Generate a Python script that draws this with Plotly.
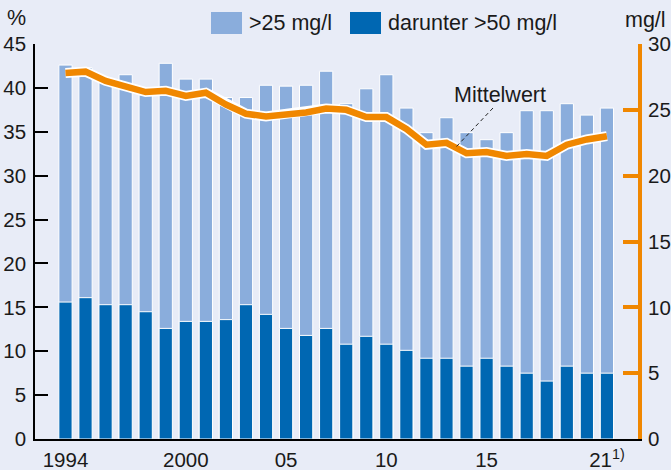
import plotly.graph_objects as go

years = list(range(1994, 2022))
share_over25 = [42.6, 42.3, 40.7, 41.5, 39.2, 42.8, 41.0, 41.0, 38.9, 38.9, 40.3, 40.2, 40.3, 41.9,
                38.2, 39.9, 41.5, 37.7, 34.9, 36.6, 34.9, 34.1, 34.9, 37.4, 37.4, 38.2, 36.9, 37.7]
share_over50 = [15.6, 16.1, 15.3, 15.3, 14.5, 12.6, 13.4, 13.4, 13.6, 15.3, 14.2, 12.6, 11.8, 12.6,
                10.8, 11.7, 10.8, 10.1, 9.2, 9.2, 8.3, 9.2, 8.3, 7.5, 6.6, 8.3, 7.5, 7.5]
mean_mgl = [27.8, 27.9, 27.2, 26.8, 26.35, 26.45, 26.05, 26.3, 25.4, 24.7, 24.5, 24.65, 24.8, 25.1,
            25.0, 24.45, 24.45, 23.55, 22.35, 22.5, 21.7, 21.8, 21.5, 21.65, 21.5, 22.35, 22.75, 23.0]
x_tickvals = [1994, 2000, 2005, 2010, 2015, 2021]
x_ticktext = ["1994", "2000", "05", "10", "15", "21<sup>1)</sup>"]
y_ticks = [0, 5, 10, 15, 20, 25, 30, 35, 40, 45]
y2_ticks = [0, 5, 10, 15, 20, 25, 30]
legend_labels = [">25 mg/l", "darunter >50 mg/l"]

BG = "#E8ECF7"
LIGHT = "#8AADDC"
DARK = "#0067B2"
ORANGE = "#F08700"
FONT = "Liberation Sans, Arial, sans-serif"
TXT = "#1a1a1a"
TICK_SIZE = 20.5
TEXT_SIZE = 21.5

W, H = 671, 470
L, R, T, B = 35, 638, 44, 439

def px(x):
    return (x - L) / (R - L)

def py(y):
    return (B - y) / (B - T)

fig = go.Figure()
fig.add_trace(go.Bar(x=years, y=share_over25, width=0.66, marker=dict(color=LIGHT, line=dict(color="white", width=1)),
                     name=legend_labels[0], showlegend=False))
fig.add_trace(go.Bar(x=years, y=share_over50, width=0.66, marker=dict(color=DARK, line=dict(color="white", width=1)),
                     name=legend_labels[1], showlegend=False))
fig.add_trace(go.Scatter(x=years, y=mean_mgl, yaxis="y2", mode="lines",
                         line=dict(color="white", width=10), showlegend=False, hoverinfo="skip"))
fig.add_trace(go.Scatter(x=years, y=mean_mgl, yaxis="y2", mode="lines",
                         line=dict(color=ORANGE, width=6.5), showlegend=False, name="Mittelwert"))

shapes = []
shapes.append(dict(type="rect", xref="paper", yref="paper", x0=px(211), x1=px(242), y0=py(34), y1=py(12),
                   fillcolor=LIGHT, line=dict(width=0)))
shapes.append(dict(type="rect", xref="paper", yref="paper", x0=px(350), x1=px(381), y0=py(34), y1=py(12),
                   fillcolor=DARK, line=dict(width=0)))
shapes.append(dict(type="line", xref="paper", yref="paper", x0=px(493), y0=py(108), x1=px(456), y1=py(147),
                   line=dict(color="#222", width=1, dash="4px,3px")))

annotations = [
    dict(text=legend_labels[0], x=px(247), y=py(23), xref="paper", yref="paper", xanchor="left", yanchor="middle",
         showarrow=False, font=dict(size=TEXT_SIZE, color=TXT, family=FONT)),
    dict(text=legend_labels[1], x=px(386), y=py(23), xref="paper", yref="paper", xanchor="left", yanchor="middle",
         showarrow=False, font=dict(size=TEXT_SIZE, color=TXT, family=FONT)),
    dict(text="%", x=px(5), y=py(18), xref="paper", yref="paper", xanchor="left", yanchor="middle",
         showarrow=False, font=dict(size=TEXT_SIZE, color=TXT, family=FONT)),
    dict(text="mg/l", x=px(623), y=py(20), xref="paper", yref="paper", xanchor="left", yanchor="middle",
         showarrow=False, font=dict(size=TEXT_SIZE, color=TXT, family=FONT)),
    dict(text="Mittelwert", x=px(500), y=py(95), xref="paper", yref="paper", xanchor="center", yanchor="middle",
         showarrow=False, font=dict(size=TEXT_SIZE, color=TXT, family=FONT)),
]

fig.update_layout(
    width=W, height=H,
    margin=dict(l=L, r=W - R, t=T, b=H - B, pad=0),
    paper_bgcolor=BG, plot_bgcolor=BG,
    barmode="overlay", showlegend=False,
    font=dict(family=FONT, size=TICK_SIZE, color=TXT),
    shapes=shapes, annotations=annotations,
    xaxis=dict(range=[1992.48, 2022.55], tickvals=x_tickvals, ticktext=x_ticktext, showgrid=False,
               zeroline=False, showline=True, linecolor="black", linewidth=1.5, ticks="", automargin=False,
               ticklabelstandoff=2, tickfont=dict(size=TICK_SIZE, color=TXT)),
    yaxis=dict(range=[0, 45], tickvals=y_ticks, showgrid=False, zeroline=False, showline=True, automargin=False,
               linecolor="black", linewidth=1.5, ticks="inside", ticklen=13, tickwidth=1.5, tickcolor="black",
               ticklabelstandoff=3, tickfont=dict(size=TICK_SIZE, color=TXT)),
    yaxis2=dict(range=[0, 30], tickvals=y2_ticks, overlaying="y", side="right", showgrid=False, zeroline=False,
                showline=True, linecolor=ORANGE, linewidth=4, ticks="inside", ticklen=15, tickwidth=4, automargin=False,
                tickcolor=ORANGE, ticklabelstandoff=2, tickfont=dict(size=TICK_SIZE, color=TXT)),
)

fig.write_html("out.html", config={"displayModeBar": False},
               post_script="document.body.style.margin='0px';document.body.style.background='%s';"
                           "document.body.style.overflow='hidden';" % BG)
